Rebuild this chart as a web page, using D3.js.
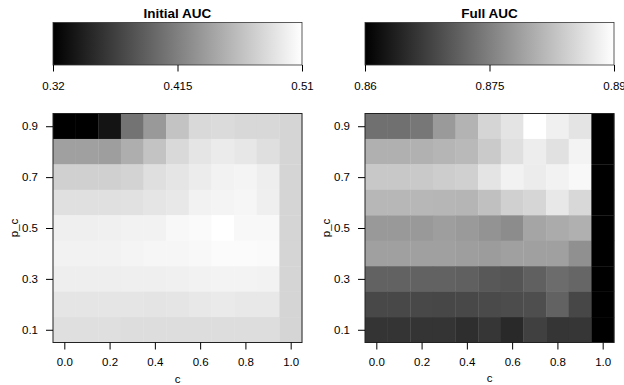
<!DOCTYPE html>
<html>
<head>
<meta charset="utf-8">
<script src="https://cdn.jsdelivr.net/npm/d3@7"></script>
<style>
  body { margin: 0; background: #fff; }
  svg, svg text { font-family: "Liberation Sans", Arial, Helvetica, sans-serif; }
  svg { display: block; }
</style>
</head>
<body>
<div id="chart"></div>
<script>
const cValues = [0.0, 0.1, 0.2, 0.3, 0.4, 0.5, 0.6, 0.7, 0.8, 0.9, 1.0];
const pcValues = [0.9, 0.8, 0.7, 0.6, 0.5, 0.4, 0.3, 0.2, 0.1];
const xTicks = [0.0, 0.2, 0.4, 0.6, 0.8, 1.0];
const yTicks = [0.1, 0.3, 0.5, 0.7, 0.9];

// rows follow pcValues (top to bottom), columns follow cValues
const initialAuc = [
  [0.320, 0.320, 0.335, 0.406, 0.434, 0.465, 0.482, 0.483, 0.481, 0.481, 0.479],
  [0.439, 0.439, 0.438, 0.450, 0.465, 0.482, 0.491, 0.495, 0.492, 0.486, 0.479],
  [0.475, 0.475, 0.475, 0.477, 0.486, 0.491, 0.496, 0.500, 0.502, 0.497, 0.479],
  [0.487, 0.487, 0.487, 0.488, 0.491, 0.493, 0.500, 0.502, 0.503, 0.498, 0.479],
  [0.498, 0.498, 0.499, 0.500, 0.500, 0.505, 0.506, 0.510, 0.505, 0.505, 0.479],
  [0.500, 0.500, 0.500, 0.502, 0.503, 0.503, 0.505, 0.507, 0.507, 0.506, 0.479],
  [0.497, 0.497, 0.497, 0.498, 0.498, 0.499, 0.500, 0.501, 0.501, 0.500, 0.479],
  [0.491, 0.491, 0.491, 0.491, 0.490, 0.491, 0.493, 0.494, 0.493, 0.493, 0.479],
  [0.486, 0.486, 0.486, 0.485, 0.485, 0.485, 0.485, 0.485, 0.485, 0.485, 0.479]
];
const fullAuc = [
  [0.8732, 0.8732, 0.8740, 0.8781, 0.8811, 0.8851, 0.8868, 0.8900, 0.8882, 0.8868, 0.855],
  [0.8807, 0.8807, 0.8808, 0.8813, 0.8818, 0.8838, 0.8862, 0.8879, 0.8865, 0.8886, 0.855],
  [0.8835, 0.8835, 0.8836, 0.8841, 0.8845, 0.8868, 0.8885, 0.8878, 0.8885, 0.8892, 0.855],
  [0.8815, 0.8815, 0.8815, 0.8814, 0.8813, 0.8826, 0.8845, 0.8852, 0.8873, 0.8854, 0.855],
  [0.8780, 0.8780, 0.8780, 0.8786, 0.8781, 0.8773, 0.8765, 0.8794, 0.8801, 0.8807, 0.855],
  [0.8788, 0.8788, 0.8788, 0.8788, 0.8786, 0.8783, 0.8788, 0.8788, 0.8788, 0.8769, 0.855],
  [0.8715, 0.8715, 0.8715, 0.8715, 0.8713, 0.8703, 0.8700, 0.8713, 0.8727, 0.8720, 0.855],
  [0.8685, 0.8685, 0.8685, 0.8683, 0.8685, 0.8687, 0.8689, 0.8692, 0.8715, 0.8683, 0.855],
  [0.8661, 0.8661, 0.8661, 0.8661, 0.8654, 0.8664, 0.8648, 0.8675, 0.8662, 0.8664, 0.855]
];

const panels = [
  { title: 'Initial AUC', values: initialAuc, domain: [0.32, 0.51], ticks: ['0.32', '0.415', '0.51'], cy: 383 },
  { title: 'Full AUC', values: fullAuc, domain: [0.86, 0.89], ticks: ['0.86', '0.875', '0.89'], cy: 382 }
];

const width = 624, height = 385;
const svg = d3.select('#chart').append('svg')
  .attr('width', width)
  .attr('height', height);

const fs = '11.5px';
const ff = '"Liberation Sans", Arial, Helvetica, sans-serif';

// grey ramp for the colour bars
const grad = svg.append('defs').append('linearGradient').attr('id', 'greyRamp');
grad.append('stop').attr('offset', '0%').attr('stop-color', '#000');
grad.append('stop').attr('offset', '100%').attr('stop-color', '#fff');

panels.forEach((p, i) => {
  const g = svg.append('g').attr('transform', `translate(${i * 312},0)`);

  const x = d3.scaleLinear().domain([-0.05, 1.05]).range([53, 302]);
  const y = d3.scaleLinear().domain([0.05, 0.95]).range([342.5, 113.5]);
  const color = d3.scaleLinear().domain(p.domain).range(['#000', '#fff']).clamp(true);

  // colour bar
  const bx = d3.scaleLinear().domain(p.domain).range([53, 302]);
  g.append('rect')
    .attr('x', bx(p.domain[0])).attr('y', 22.5)
    .attr('width', bx(p.domain[1]) - bx(p.domain[0])).attr('height', 42.5)
    .attr('fill', 'url(#greyRamp)')
    .attr('stroke', '#333').attr('stroke-width', 0.8);

  const tickVals = [p.domain[0], (p.domain[0] + p.domain[1]) / 2, p.domain[1]];
  const barAxis = g.append('g')
    .attr('transform', 'translate(0,65)')
    .call(d3.axisBottom(bx).tickValues(tickVals).tickSize(6.5).tickPadding(10)
      .tickFormat((d, k) => p.ticks[k]));
  barAxis.select('.domain').remove();
  barAxis.selectAll('text').style('font-size', fs).style('font-family', ff).attr('fill', '#000');

  g.append('text')
    .attr('x', 177.5).attr('y', 18)
    .attr('text-anchor', 'middle')
    .style('font-size', '13.5px').style('font-weight', 'bold').style('font-family', ff)
    .text(p.title);

  // heatmap cells
  const cells = [];
  p.values.forEach((row, r) => row.forEach((v, c) => cells.push({ c: cValues[c], pc: pcValues[r], v })));
  g.append('g').selectAll('rect')
    .data(cells)
    .enter().append('rect')
    .attr('x', d => x(d.c - 0.05))
    .attr('y', d => y(d.pc + 0.05))
    .attr('width', d => x(d.c + 0.05) - x(d.c - 0.05) + 0.3)
    .attr('height', d => y(d.pc - 0.05) - y(d.pc + 0.05) + 0.3)
    .attr('fill', d => color(d.v));

  g.append('rect')
    .attr('x', 53).attr('y', 113.5).attr('width', 249).attr('height', 229)
    .attr('fill', 'none').attr('stroke', '#222').attr('stroke-width', 1);

  const xAxis = g.append('g')
    .attr('transform', 'translate(0,342.5)')
    .call(d3.axisBottom(x).tickValues(xTicks).tickSize(7).tickPadding(8).tickFormat(d3.format('.1f')));
  xAxis.select('.domain').remove();
  xAxis.selectAll('text').style('font-size', fs).style('font-family', ff).attr('fill', '#000');

  const yAxis = g.append('g')
    .attr('transform', 'translate(53,0)')
    .call(d3.axisLeft(y).tickValues(yTicks).tickSize(7).tickPadding(8).tickFormat(d3.format('.1f')));
  yAxis.select('.domain').remove();
  yAxis.selectAll('text').style('font-size', fs).style('font-family', ff).attr('fill', '#000');

  g.append('text')
    .attr('x', 177.5).attr('y', p.cy)
    .attr('text-anchor', 'middle')
    .style('font-size', fs).style('font-family', ff)
    .text('c');

  g.append('text')
    .attr('transform', 'translate(18,228) rotate(-90)')
    .attr('text-anchor', 'middle')
    .style('font-size', fs).style('font-family', ff)
    .text('p_c');
});
</script>
</body>
</html>
